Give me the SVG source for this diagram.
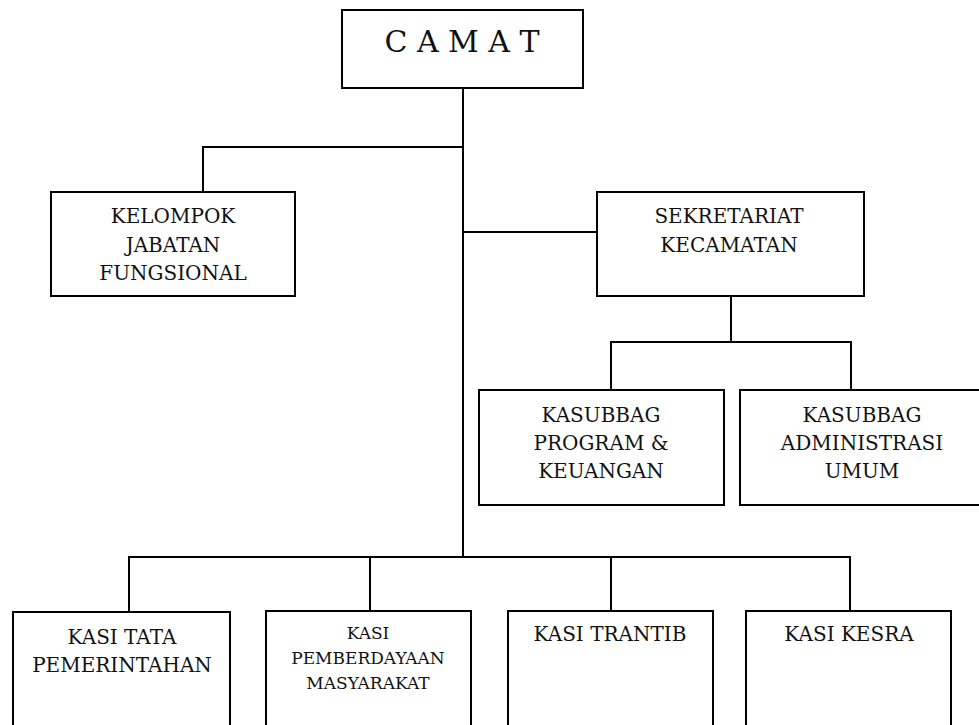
<svg xmlns="http://www.w3.org/2000/svg" width="979" height="725" viewBox="0 0 979 725">
<style>
.box{fill:#fff;stroke:#000;stroke-width:2}
.ln{fill:none;stroke:#000;stroke-width:2}
text{font-family:"DejaVu Serif","Liberation Serif",serif;fill:#111;text-anchor:middle}
.t{font-size:20px}
.s{font-size:17px}
.big{font-size:30px}
</style>
<rect width="979" height="725" fill="#fff"/>
<g id="connectors">
<path class="ln" d="M463 88V557"/>
<path class="ln" d="M463 147H203V192"/>
<path class="ln" d="M463 232H597"/>
<path class="ln" d="M731 296V342"/>
<path class="ln" d="M611 390V342H851V390"/>
<path class="ln" d="M129 612V557H850V611"/>
<path class="ln" d="M370 557V611"/>
<path class="ln" d="M611 557V611"/>
</g>
<g id="camat">
<rect class="box" x="342" y="10" width="241" height="78"/>
<text class="big" x="462" y="52">C A M A T</text>
</g>
<g id="kelompok">
<rect class="box" x="51" y="192" width="244" height="104"/>
<text class="t" x="173" y="223">KELOMPOK</text>
<text class="t" x="173" y="252">JABATAN</text>
<text class="t" x="173" y="280">FUNGSIONAL</text>
</g>
<g id="sekretariat">
<rect class="box" x="597" y="192" width="267" height="104"/>
<text class="t" x="729" y="223">SEKRETARIAT</text>
<text class="t" x="729" y="252">KECAMATAN</text>
</g>
<g id="kasubbag-program">
<rect class="box" x="479" y="390" width="245" height="115"/>
<text class="t" x="601" y="422">KASUBBAG</text>
<text class="t" x="601" y="450">PROGRAM &amp;</text>
<text class="t" x="601" y="478">KEUANGAN</text>
</g>
<g id="kasubbag-umum">
<rect class="box" x="740" y="390" width="250" height="115"/>
<text class="t" x="862" y="422">KASUBBAG</text>
<text class="t" x="862" y="450">ADMINISTRASI</text>
<text class="t" x="862" y="478">UMUM</text>
</g>
<g id="kasi-tata">
<rect class="box" x="13" y="612" width="217" height="120"/>
<text class="t" x="122" y="644">KASI TATA</text>
<text class="t" x="122" y="672">PEMERINTAHAN</text>
</g>
<g id="kasi-pemberdayaan">
<rect class="box" x="266" y="611" width="205" height="121"/>
<text class="s" x="368" y="639">KASI</text>
<text class="s" x="368" y="664">PEMBERDAYAAN</text>
<text class="s" x="368" y="689">MASYARAKAT</text>
</g>
<g id="kasi-trantib">
<rect class="box" x="508" y="611" width="205" height="121"/>
<text class="t" x="610" y="641">KASI TRANTIB</text>
</g>
<g id="kasi-kesra">
<rect class="box" x="746" y="611" width="205" height="121"/>
<text class="t" x="849" y="641">KASI KESRA</text>
</g>
</svg>
